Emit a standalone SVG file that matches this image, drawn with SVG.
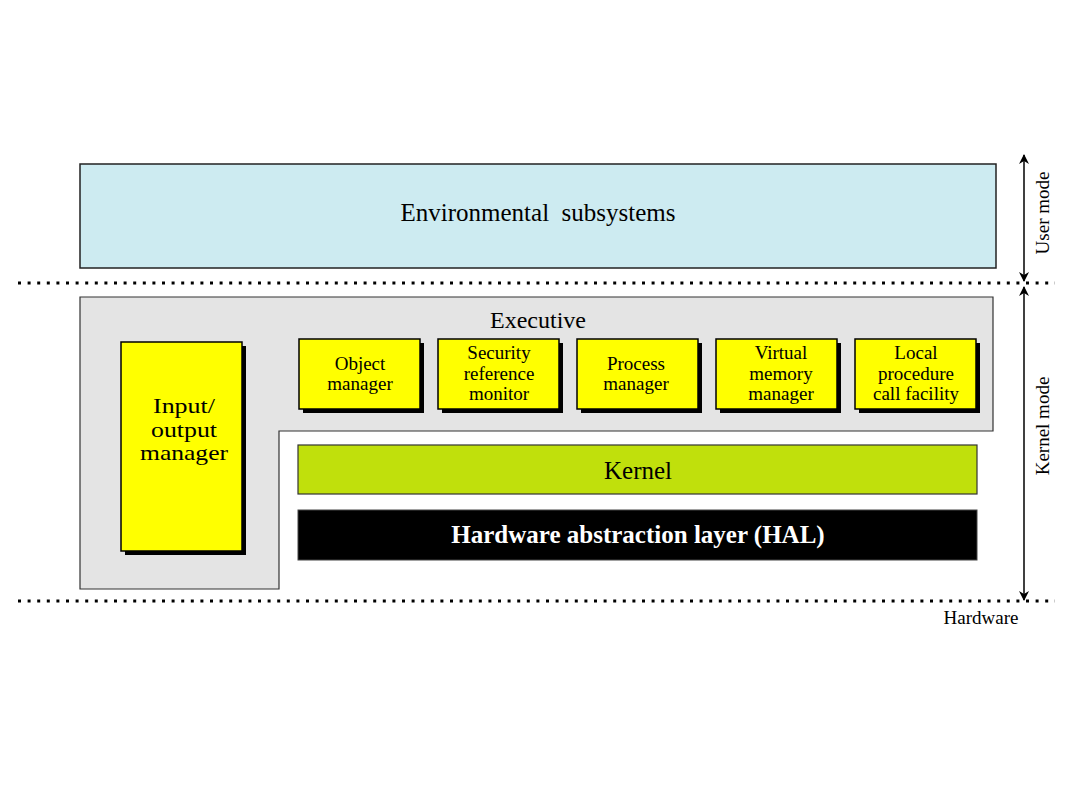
<svg xmlns="http://www.w3.org/2000/svg" width="1080" height="810" viewBox="0 0 1080 810">
<defs>
<marker id="ah" viewBox="0 0 10 10" refX="9" refY="5" markerWidth="10" markerHeight="10" markerUnits="userSpaceOnUse" orient="auto-start-reverse">
<path d="M0,0 L10,5 L0,10 L3,5 z" fill="#000"/>
</marker>
</defs>
<style>
text{font-family:"Liberation Serif","Times New Roman",serif;fill:#000}
.sm{font-size:19px;text-anchor:middle}
.io{font-size:22px;text-anchor:middle}
.yb{fill:#ffff00;stroke:#000;stroke-width:1.5}
.sh{fill:#000}
.dot{stroke:#000;stroke-width:3;stroke-dasharray:3 6.6;fill:none}
</style>
<rect width="1080" height="810" fill="#fff"/>
<g id="env">
<rect x="80" y="164" width="916" height="104" fill="#cdebf1" stroke="#222" stroke-width="1.5"/>
<text x="538" y="221" font-size="25" text-anchor="middle" xml:space="preserve" style="white-space:pre">Environmental  subsystems</text>
</g>
<g id="executive">
<path d="M80,297 H993 V431 H279 V589 H80 Z" fill="#e4e4e4" stroke="#333" stroke-width="1.2"/>
<text x="538" y="328" font-size="24" text-anchor="middle">Executive</text>
</g>
<g id="io">
<rect class="sh" x="125" y="346" width="121" height="209"/>
<rect class="yb" x="121" y="342" width="121" height="209"/>
<text class="io" x="184" y="413" textLength="62" lengthAdjust="spacingAndGlyphs">Input/</text>
<text class="io" x="184" y="437" textLength="66" lengthAdjust="spacingAndGlyphs">output</text>
<text class="io" x="184" y="460" textLength="88" lengthAdjust="spacingAndGlyphs">manager</text>
</g>
<g id="object">
<rect class="sh" x="303" y="343" width="121" height="70"/>
<rect class="yb" x="299" y="339" width="121" height="70"/>
<text class="sm" x="360" y="370">Object</text>
<text class="sm" x="360" y="390">manager</text>
</g>
<g id="security">
<rect class="sh" x="442" y="343" width="121" height="70"/>
<rect class="yb" x="438" y="339" width="121" height="70"/>
<text class="sm" x="499" y="359">Security</text>
<text class="sm" x="499" y="380">reference</text>
<text class="sm" x="499" y="400">monitor</text>
</g>
<g id="process">
<rect class="sh" x="581" y="343" width="121" height="70"/>
<rect class="yb" x="577" y="339" width="121" height="70"/>
<text class="sm" x="636" y="370">Process</text>
<text class="sm" x="636" y="390">manager</text>
</g>
<g id="vmm">
<rect class="sh" x="720" y="343" width="121" height="70"/>
<rect class="yb" x="716" y="339" width="121" height="70"/>
<text class="sm" x="781" y="359">Virtual</text>
<text class="sm" x="781" y="380">memory</text>
<text class="sm" x="781" y="400">manager</text>
</g>
<g id="lpc">
<rect class="sh" x="859" y="343" width="121" height="70"/>
<rect class="yb" x="855" y="339" width="121" height="70"/>
<text class="sm" x="916" y="359">Local</text>
<text class="sm" x="916" y="380">procedure</text>
<text class="sm" x="916" y="400">call facility</text>
</g>
<g id="kernel">
<rect x="298" y="445" width="679" height="49" fill="#c0e00c" stroke="#333" stroke-width="1.2"/>
<text x="638" y="479" font-size="25" text-anchor="middle">Kernel</text>
</g>
<g id="hal">
<rect x="298" y="510" width="679" height="50" fill="#000" stroke="#444" stroke-width="1"/>
<text x="638" y="543" font-size="25" font-weight="bold" text-anchor="middle" style="fill:#fff">Hardware abstraction layer (HAL)</text>
</g>
<g id="connectors">
<line class="dot" x1="18" y1="283" x2="1055" y2="283"/>
<line class="dot" x1="18" y1="601" x2="1055" y2="601"/>
<line x1="1024" y1="155" x2="1024" y2="281" stroke="#000" stroke-width="1.5" marker-start="url(#ah)" marker-end="url(#ah)"/>
<line x1="1024" y1="287" x2="1024" y2="600" stroke="#000" stroke-width="1.5" marker-start="url(#ah)" marker-end="url(#ah)"/>
</g>
<g id="labels">
<text x="1049" y="213" font-size="19" text-anchor="middle" transform="rotate(-90 1049 213)">User mode</text>
<text x="1049" y="426" font-size="19" text-anchor="middle" transform="rotate(-90 1049 426)">Kernel mode</text>
<text x="981" y="624" font-size="19" text-anchor="middle">Hardware</text>
</g>
</svg>
